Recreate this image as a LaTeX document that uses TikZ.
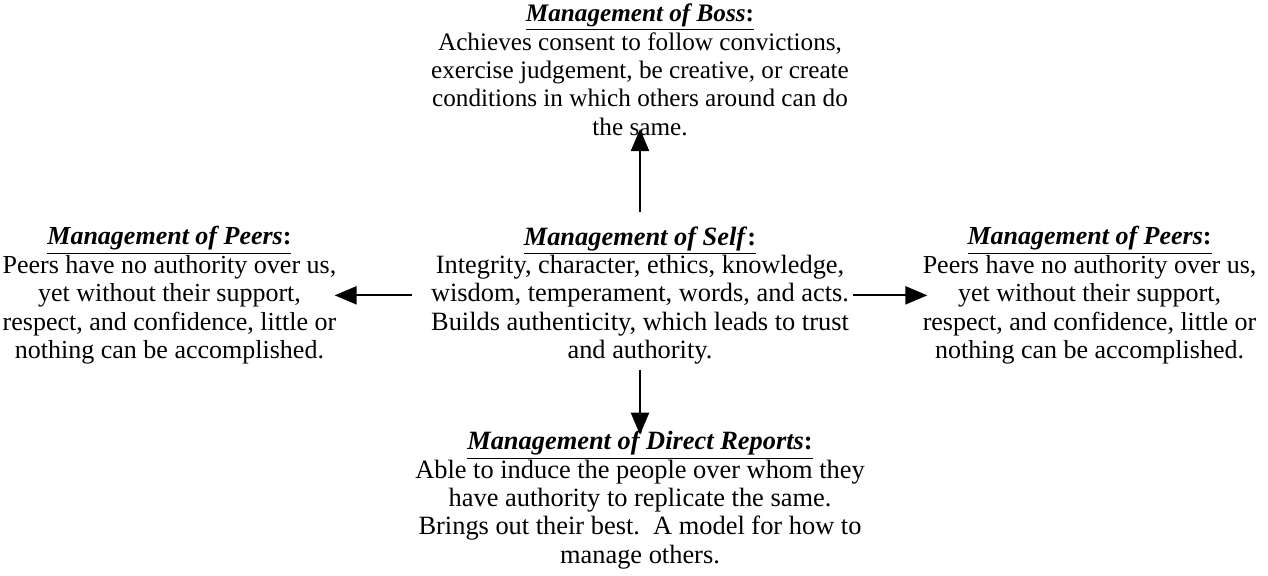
\documentclass[tikz,border=0pt]{standalone}
\usepackage{fontspec}
\setmainfont{Liberation Serif}
\usepackage{tikz}
\usetikzlibrary{positioning,arrows.meta}

\newcommand{\mgmt}[1]{\underline{\textbf{\textit{Management of #1}}\textbf{:}}}

\tikzset{
  block/.style={inner sep=0pt, align=center, font=\fontsize{#1}{14.2}\selectfont},
  link/.style={-{Triangle[length=11pt,width=9pt]}, line width=1.1pt}
}

\begin{document}
\begin{tikzpicture}[x=0.5pt,y=-0.5pt]
            \useasboundingbox (0,0) rectangle (1268,575);

            \node [block=13.2, anchor=north] (S) at (640,226) {\mgmt{Self}\\
              Integrity, character, ethics, knowledge,\\
              wisdom, temperament, words, and acts.\\
              Builds authenticity, which leads to trust\\
              and authority.};

            \node [block=12.6] (B) [above=45pt of S] {\mgmt{Boss}\\
              Achieves consent to follow convictions,\\
              exercise judgement, be creative, or create\\
              conditions in which others around can do\\
              the same.};

            \node [block=13] (L) [left=47pt of S] {\mgmt{Peers}\\
              Peers have no authority over us,\\
              yet without their support,\\
              respect, and confidence, little or\\
              nothing can be accomplished.};

            \node [block=13] (R) [right=36.5pt of S] {\mgmt{Peers}\\
              Peers have no authority over us,\\
              yet without their support,\\
              respect, and confidence, little or\\
              nothing can be accomplished.};

            \node [block=13.2] (D) [below=33pt of S] {\mgmt{Direct Reports}\\
              Able to induce the people over whom they\\
              have authority to replicate the same.\\
              Brings out their best.\ \ A model for how to\\
              manage others.};


            \draw [link, shorten <=7pt, shorten >=-3.5pt] (S) to (B);
            \draw [link, shorten <=2.5pt, shorten >=-2pt] (S) to (D);

            \draw [link, shorten <=9.5pt, shorten >=-1pt] (S) to (L);
            \draw [link, shorten <=2pt, shorten >=-2.5pt] (S) to (R);
        \end{tikzpicture}
\end{document}
